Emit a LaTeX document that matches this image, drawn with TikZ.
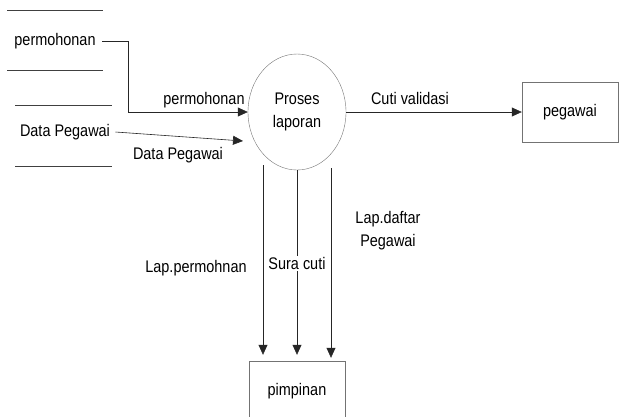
\documentclass[tikz,border=0pt]{standalone}
\usepackage{fontspec}
\setmainfont{Liberation Sans}[FakeStretch=0.86]
\usepackage{tikz}
\usetikzlibrary{shapes.geometric, arrows.meta}

\begin{document}
\begin{tikzpicture}[x=1pt, y=-1pt,
    every node/.style={font=\fontsize{16.8}{23}\selectfont},
    proc/.style={ellipse, draw=black!55, minimum width=98pt, minimum height=116pt, align=center},
    entity/.style={rectangle, draw=black!55, minimum width=96pt, minimum height=60pt},
    flow/.style={draw=black!85, line width=0.6pt, -{Triangle[length=10pt, width=9pt]}},
    store/.style={draw=black!75, line width=0.6pt}]
    \useasboundingbox (0,0) rectangle (626,416);

    % data stores
    \draw[store] (7,10) -- (103,10);
    \draw[store] (7,70) -- (103,70);
    \draw[store] (15,105) -- (112,105);
    \draw[store] (15,166) -- (112,166);
    \node (src1) at (55,41) {permohonan};
    \node (src2) at (65,132) {Data Pegawai};

    % process and entities
    \node[proc] (proses) at (297,112) {Proses\\laporan};
    \node[entity] (pegawai) at (570,112) {pegawai};
    \node[entity] (pimpinan) at (297,391) {pimpinan};

    % flows into the process
    \draw[flow] ([xshift=3pt]src1.east) -- (128,41) -- (128,112) -- (proses.west);
    \node (lblmohon) at (204,100) {permohonan};
    \coordinate (dpend) at (243,141);
    \draw[flow] ([xshift=2pt]src2.east) -- (dpend);
    \node (lbldata) at (178,155) {Data Pegawai};

    % flow to pegawai
    \draw[flow] (proses.east) -- (pegawai.west);
    \node (lblcuti) at (410,98) {Cuti validasi};

    % flows to pimpinan
    \coordinate (lapa) at (263,165);
    \coordinate (lapb) at (331,168);
    \draw[flow, shorten >=6pt] (lapa) -- (lapa |- pimpinan.north);
    \draw[flow, shorten >=6pt] (proses.south) -- (pimpinan.north)
        node[pos=0.49, fill=white, inner sep=1pt] (lblsurat) {Sura cuti};
    \draw[flow, shorten >=3pt] (lapb) -- (lapb |- pimpinan.north);
    \node (lbllap) at (196,268) {Lap.permohnan};
    \node[align=center] (lbldaftar) at (388,231) {Lap.daftar\\Pegawai};

\end{tikzpicture}
\end{document}
